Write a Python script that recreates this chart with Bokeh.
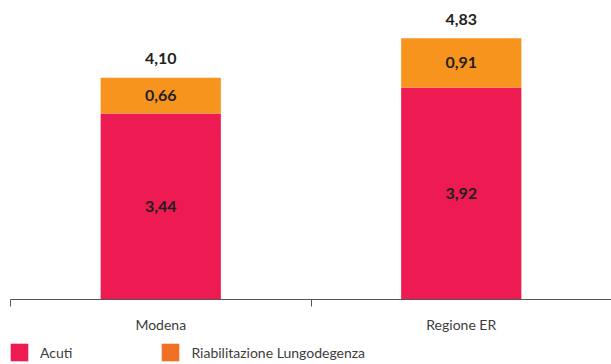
import numpy as np
from bokeh.plotting import figure
from bokeh.layouts import column
from bokeh.models import (ColumnDataSource, Range1d, FixedTicker, LinearAxis,
                          Legend, LegendItem)
from bokeh.core.properties import value
from bokeh.embed import file_html
from bokeh.resources import INLINE

categories = ["Modena", "Regione ER"]
acuti = [3.44, 3.92]
riab = [0.66, 0.91]
totals = [4.10, 4.83]
series_names = ["Acuti", "Riabilitazione Lungodegenza"]

RED = "#EE1A52"
ORANGE = "#F7941E"
ORANGE_LEG = "#F07024"
FONT = "Lato"

def fmt(v):
    return f"{v:.2f}".replace(".", ",")

x = np.arange(len(categories)) + 0.5
acuti_a = np.array(acuti)
riab_a = np.array(riab)
src = ColumnDataSource(dict(
    x=x,
    a_top=acuti_a,
    r_bot=acuti_a,
    r_top=acuti_a + riab_a,
    a_mid=acuti_a / 2,
    r_mid=acuti_a + riab_a / 2,
    tot=np.array(totals),
    a_lab=[fmt(v) for v in acuti],
    r_lab=[fmt(v) for v in riab],
    t_lab=[fmt(v) for v in totals],
))

p = figure(width=611, height=335, output_backend="svg", toolbar_location=None,
           x_range=Range1d(0, len(categories)), y_range=Range1d(0, 5.53),
           y_axis_location=None, x_axis_location=None,
           min_border_left=10, min_border_right=0, min_border_top=0,
           min_border_bottom=35)
p.outline_line_color = None
p.grid.visible = False
p.background_fill_color = "white"
p.border_fill_color = "white"

p.vbar(x="x", bottom=0, top="a_top", width=0.4, color=RED, line_color=None, source=src)
p.vbar(x="x", bottom="r_bot", top="r_top", width=0.4, color=ORANGE, line_color=None, source=src)

lab_kw = dict(text_font=value(FONT), text_font_style="bold", text_font_size="16px",
              text_color="#231F20", text_align="center", text_baseline="middle")
p.text(x="x", y="a_mid", text="a_lab", source=src, **lab_kw)
p.text(x="x", y="r_mid", text="r_lab", source=src, **lab_kw)
p.text(x="x", y="tot", text="t_lab", source=src, y_offset=-19, **lab_kw)

ax = LinearAxis()
ax.ticker = FixedTicker(ticks=list(x), minor_ticks=list(range(len(categories) + 1)))
ax.major_label_overrides = {float(xi): c for xi, c in zip(x, categories)}
ax.major_tick_line_color = None
ax.major_tick_out = 0
ax.major_tick_in = 0
ax.minor_tick_out = 7
ax.minor_tick_in = 0
ax.minor_tick_line_color = "#555555"
ax.axis_line_color = "#555555"
ax.major_label_standoff = 9
ax.major_label_text_font = FONT
ax.major_label_text_font_size = "14px"
ax.major_label_text_color = "#3C3C3C"
p.add_layout(ax, "below")

# legend figure (swatch renderers are hidden; only their legend entries show)
lf = figure(width=611, height=29, output_backend="svg", toolbar_location=None,
            x_axis_location=None, y_axis_location=None,
            x_range=Range1d(0, 1), y_range=Range1d(0, 1),
            min_border_left=0, min_border_right=0, min_border_top=0,
            min_border_bottom=0)
lf.outline_line_color = None
lf.grid.visible = False
r1 = lf.vbar(x="x", top="a_top", width=0.4, color=RED, line_color=None,
             source=src, visible=False)
r2 = lf.vbar(x="x", bottom="r_bot", top="r_top", width=0.4, color=ORANGE_LEG,
             line_color=None, source=src, visible=False)
leg = Legend(items=[LegendItem(label=series_names[0], renderers=[r1]),
                    LegendItem(label=series_names[1], renderers=[r2])],
             orientation="horizontal", location=(-2, 1),
             glyph_width=22, glyph_height=22, label_standoff=10, spacing=87,
             padding=0, margin=0, border_line_color=None, background_fill_alpha=0,
             inactive_fill_alpha=0,
             label_text_font=FONT, label_text_font_size="14px",
             label_text_color="#3C3C3C", label_height=22)
lf.add_layout(leg, "center")

layout = column(p, lf, spacing=0)
open("out.html", "w").write(file_html(layout, INLINE))
